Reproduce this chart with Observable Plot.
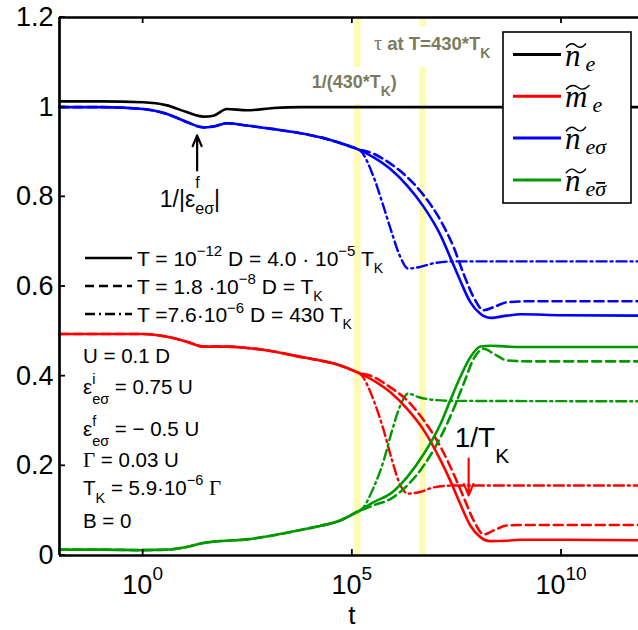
<!DOCTYPE html>
<html><head><meta charset="utf-8">
<script src="https://cdn.jsdelivr.net/npm/d3@7"></script>
<script src="https://cdn.jsdelivr.net/npm/@observablehq/plot@0.6"></script>
<style>html,body{margin:0;padding:0;background:#fff}svg{display:block}</style>
</head><body><div id="chart"></div>
<script>
// ---------- data (x given as log10 t) ----------
const earlyExp = [-2, -1, 0, 0.57, 1.04, 1.44, 1.68, 2.0, 2.48, 3.12, 3.76, 4.23, 4.71, 5.11];
const neEarly   = [1.013, 1.013, 1.011, 1.004, 0.989, 0.979, 0.981, 0.996, 0.993, 0.998, 1.0, 1.0, 1.0, 1.0];
const nesEarly  = [1.0, 1.0, 0.996, 0.985, 0.967, 0.955, 0.957, 0.964, 0.959, 0.951, 0.942, 0.933, 0.920, 0.907];
const meEarly   = [0.494, 0.494, 0.494, 0.488, 0.477, 0.466, 0.466, 0.466, 0.463, 0.455, 0.443, 0.435, 0.424, 0.409];
const nesbEarly = [0.013, 0.013, 0.012, 0.013, 0.019, 0.028, 0.031, 0.033, 0.036, 0.045, 0.057, 0.066, 0.078, 0.097];

const neTailExp = [6, 11.84];
const neTail = [1.0, 1.0];

const solidExp = [5.51, 5.91, 6.31, 6.71, 7.11, 7.34, 7.58, 7.82, 8.06, 8.30, 8.70, 9.02, 10, 11.84];
const nesSolid  = [0.888, 0.862, 0.825, 0.777, 0.714, 0.665, 0.613, 0.565, 0.539, 0.530, 0.535, 0.538, 0.536, 0.535];
const meSolid   = [0.390, 0.364, 0.327, 0.279, 0.212, 0.167, 0.115, 0.067, 0.041, 0.032, 0.033, 0.035, 0.035, 0.034];
const nesbSolid = [0.119, 0.138, 0.175, 0.227, 0.294, 0.346, 0.398, 0.442, 0.466, 0.468, 0.466, 0.465, 0.465, 0.465];

const dashExp = [5.51, 5.91, 6.31, 6.71, 7.11, 7.42, 7.66, 7.90, 8.14, 8.38, 8.70, 9.2, 11.84];
const nesDash  = [0.896, 0.874, 0.844, 0.803, 0.747, 0.688, 0.628, 0.576, 0.547, 0.554, 0.565, 0.567, 0.567];
const meDash   = [0.398, 0.375, 0.346, 0.301, 0.242, 0.182, 0.130, 0.078, 0.047, 0.056, 0.067, 0.068, 0.068];
const nesbDash = [0.112, 0.126, 0.156, 0.201, 0.264, 0.327, 0.383, 0.439, 0.461, 0.450, 0.435, 0.433, 0.433];

const ddExp = [5.19, 5.51, 5.75, 5.95, 6.15, 6.33, 6.59, 6.95, 7.4, 11.84];
const nesDD  = [0.903, 0.844, 0.777, 0.718, 0.665, 0.640, 0.643, 0.652, 0.656, 0.656];
const meDD   = [0.405, 0.346, 0.279, 0.212, 0.156, 0.138, 0.141, 0.152, 0.156, 0.156];
const nesbDD = [0.100, 0.152, 0.212, 0.279, 0.335, 0.361, 0.353, 0.347, 0.345, 0.344];

const bandExp = [5.12, 6.68];             // 1/(430 T_K), tau at T = 430 T_K
const xTickExp = [0, 5, 10];
const yTicks = [0, 0.2, 0.4, 0.6, 0.8, 1, 1.2];
const xDomainExp = [-2, 11.84];

const COLORS = {ne: "#000000", me: "#ff0000", nes: "#0000ff", nesb: "#009a00"};
const BAND = "#fffbb2";
const ANN = "#7b7b5b";
const SANS = "'Liberation Sans', Arial, Helvetica, sans-serif";
const SERIF = "'Liberation Serif', 'Times New Roman', serif";
const DASH = "9,5";
const DASHDOT = "10,4,2,4";

// annotation arrows (log10 t, values)
const arrows = [
  {e: 1.29, y1: 0.859, y2: 0.937, color: "#000000"},
  {e: 7.78, y1: 0.216, y2: 0.134, color: "#ff0000"}
];

// ---------- build rows ----------
const series = [
  {q: "ne",   style: "solid",   exp: earlyExp.concat(neTailExp), val: neEarly.concat(neTail)},
  {q: "nes",  style: "solid",   exp: earlyExp.concat(solidExp), val: nesEarly.concat(nesSolid)},
  {q: "me",   style: "solid",   exp: earlyExp.concat(solidExp), val: meEarly.concat(meSolid)},
  {q: "nesb", style: "solid",   exp: earlyExp.concat(solidExp), val: nesbEarly.concat(nesbSolid)},
  {q: "nes",  style: "dash",    exp: earlyExp.concat(dashExp), val: nesEarly.concat(nesDash)},
  {q: "me",   style: "dash",    exp: earlyExp.concat(dashExp), val: meEarly.concat(meDash)},
  {q: "nesb", style: "dash",    exp: earlyExp.concat(dashExp), val: nesbEarly.concat(nesbDash)},
  {q: "nes",  style: "dashdot", exp: earlyExp.slice(-3).concat(ddExp), val: nesEarly.slice(-3).concat(nesDD)},
  {q: "me",   style: "dashdot", exp: earlyExp.slice(-3).concat(ddExp), val: meEarly.slice(-3).concat(meDD)},
  {q: "nesb", style: "dashdot", exp: earlyExp.slice(-3).concat(ddExp), val: nesbEarly.slice(-3).concat(nesbDD)}
];
const rows = series.flatMap(s => s.exp.map((e, i) => ({
  key: s.q + "-" + s.style, style: s.style, color: COLORS[s.q], t: 10 ** e, v: s.val[i]
})));
const byStyle = st => rows.filter(d => d.style === st);

const plot = Plot.plot({
  width: 638, height: 630,
  marginLeft: 59, marginRight: 0, marginTop: 17, marginBottom: 75,
  style: {fontFamily: SANS, fontSize: "27px", background: "white", color: "black"},
  x: {type: "log", domain: xDomainExp.map(e => 10 ** e), axis: null},
  y: {domain: [0, 1.2], axis: null},
  color: {type: "identity"},
  marks: [
    Plot.ruleX(bandExp.map(e => 10 ** e), {stroke: BAND, strokeWidth: 6.5}),
    Plot.line(byStyle("dashdot"), {x: "t", y: "v", z: "key", stroke: "color", strokeWidth: 2.4, strokeDasharray: DASHDOT, curve: "monotone-x"}),
    Plot.line(byStyle("dash"), {x: "t", y: "v", z: "key", stroke: "color", strokeWidth: 2.6, strokeDasharray: DASH, curve: "monotone-x"}),
    Plot.line(byStyle("solid"), {x: "t", y: "v", z: "key", stroke: "color", strokeWidth: 2.6, curve: "monotone-x"}),
    Plot.arrow(arrows, {x1: d => 10 ** d.e, x2: d => 10 ** d.e, y1: "y1", y2: "y2", stroke: "color", strokeWidth: 2.2, headLength: 11, headAngle: 45}),
    Plot.ruleX([10 ** xDomainExp[0]], {strokeWidth: 2.7}),
    Plot.ruleY([0, 1.2], {strokeWidth: 2.7}),
    Plot.axisY({ticks: yTicks, tickSize: 0, tickPadding: 6, fontSize: 27, tickFormat: d => String(+d.toFixed(1)), label: null})
  ]
});
document.getElementById("chart").appendChild(plot);

// ---------- rich text & decorations ----------
const sx = plot.scale("x"), sy = plot.scale("y");
const PX = e => sx.apply(10 ** e), PY = v => sy.apply(v);
const svg = d3.select(plot);
const layer = svg.append("g").attr("text-anchor", "start").attr("font-family", SANS);

function rich(x, y, parts, o = {}) {
  const size = o.size || 20, fam = o.family || SANS, fill = o.fill || "black", weight = o.weight || "normal";
  const grp = layer.append("g");
  let cx = x;
  const put = (str, xx, yy, sz, ex = {}) => {
    const t = grp.append("text").attr("x", xx).attr("y", yy).attr("font-size", sz)
      .attr("text-anchor", "start")
      .attr("font-family", ex.family || fam).attr("font-weight", ex.weight || weight)
      .attr("font-style", ex.style || "normal").attr("fill", ex.fill || fill)
      .style("white-space", "pre").text(str);
    return t.node().getComputedTextLength();
  };
  for (const p of parts) {
    if (typeof p === "string") { cx += put(p, cx, y, size); continue; }
    if (p.sup !== undefined || p.sub !== undefined) {
      const ss = p.size || Math.round(size * 0.7);
      let w1 = 0, w2 = 0;
      if (p.sup !== undefined) w1 = put(p.sup, cx, y - (p.up ?? size * 0.42), ss, p);
      if (p.sub !== undefined) w2 = put(p.sub, cx, y + (p.down ?? size * 0.36), ss, p);
      cx += Math.max(w1, w2);
    } else cx += put(p.t, cx, y, p.size || size, p);
  }
  if (o.anchor === "middle") grp.attr("transform", `translate(${-(cx - x) / 2},0)`);
  if (o.bg) {
    const b = grp.node().getBBox(), pad = o.pad || 5;
    grp.insert("rect", ":first-child").attr("x", b.x - pad).attr("y", b.y - pad)
      .attr("width", b.width + 2 * pad).attr("height", b.height + 2 * pad).attr("fill", "white");
  }
  return grp;
}

// frame ticks (inward)
const yTopPx = PY(1.2), yBotPx = PY(0), xLeftPx = PX(xDomainExp[0]);
for (const e of xTickExp) {
  layer.append("line").attr("x1", PX(e)).attr("x2", PX(e)).attr("y1", yBotPx).attr("y2", yBotPx - 6).attr("stroke", "black").attr("stroke-width", 1.8);
  layer.append("line").attr("x1", PX(e)).attr("x2", PX(e)).attr("y1", yTopPx).attr("y2", yTopPx + 6).attr("stroke", "black").attr("stroke-width", 1.8);
  rich(PX(e), yBotPx + 39, ["10", {sup: String(e), size: 19, up: 14}], {size: 27, anchor: "middle"});
}
for (const v of yTicks) {
  layer.append("line").attr("x1", xLeftPx).attr("x2", xLeftPx + 6).attr("y1", PY(v)).attr("y2", PY(v)).attr("stroke", "black").attr("stroke-width", 1.8);
}
layer.append("text").attr("x", PX(5)).attr("y", yBotPx + 69).attr("text-anchor", "middle")
  .attr("font-size", 26).attr("font-family", SANS).text("t");

// band labels
rich(PX(4.04), PY(1.042), ["1/(430*T", {sub: "K", size: 14, down: 8}, ")"], {size: 18, weight: "bold", fill: ANN, bg: true, pad: 5});
rich(PX(5.53), PY(1.126), [{t: "τ", family: SERIF, weight: "normal", size: 20}, " at T=430*T", {sub: "K", size: 14, down: 8}], {size: 18.5, weight: "bold", fill: ANN, bg: true, pad: 6});

// arrow annotations
rich(PX(0.41), PY(0.776), ["1/|ε", {sup: "f", sub: "eσ", size: 16, up: 19, down: 7}, "|"], {size: 23});
rich(PX(7.46), PY(0.241), ["1/T", {sub: "K", size: 21, down: 16}], {size: 28});

// left legend (line styles)
const lsLegend = [
  {dash: null, y: 258, parts: ["T = 10", {sup: "−12", size: 15, up: 10}, " D = 4.0 · 10", {sup: "−5", size: 15, up: 10}, " T", {sub: "K", size: 14, down: 7}]},
  {dash: DASH, y: 286, parts: ["T = 1.8 ·10", {sup: "−8", size: 15, up: 10}, " D = T", {sub: "K", size: 14, down: 7}]},
  {dash: DASHDOT, y: 314, parts: ["T =7.6·10", {sup: "−6", size: 15, up: 9}, " D = 430 T", {sub: "K", size: 14, down: 7}]}
];
for (const L of lsLegend) {
  const ln = layer.append("line").attr("x1", 85).attr("x2", 132).attr("y1", L.y).attr("y2", L.y).attr("stroke", "black").attr("stroke-width", 2.6);
  if (L.dash) ln.attr("stroke-dasharray", L.dash);
  rich(137, L.y + 7.5, L.parts, {size: 21});
}

// parameter block
const params = [
  {y: 363, parts: ["U = 0.1 D"]},
  {y: 394, parts: ["ε", {sup: "i", sub: "eσ", size: 14.5, up: 10, down: 10}, " = 0.75 U"]},
  {y: 436, parts: ["ε", {sup: "f", sub: "eσ", size: 14.5, up: 10, down: 10}, " = − 0.5 U"]},
  {y: 467, parts: [{t: "Γ", family: SERIF, size: 21}, " = 0.03 U"]},
  {y: 495, parts: ["T", {sub: "K", size: 14.5, down: 8}, " = 5.9·10", {sup: "−6", size: 14.5, up: 10}, " ", {t: "Γ", family: SERIF, size: 21}]},
  {y: 528, parts: ["B = 0"]}
];
for (const P of params) rich(83, P.y, P.parts, {size: 20.5});

// quantity legend box
const qLegend = [
  {color: COLORS.ne, base: "n", sub: "e", bar: false},
  {color: COLORS.me, base: "m", sub: "e", bar: false},
  {color: COLORS.nes, base: "n", sub: "eσ", bar: false},
  {color: COLORS.nesb, base: "n", sub: "eσ", bar: true}
];
layer.append("rect").attr("x", 503).attr("y", 32).attr("width", 128).attr("height", 171)
  .attr("fill", "white").attr("stroke", "black").attr("stroke-width", 1.6);
qLegend.forEach((q, i) => {
  const y = 54.5 + i * 41.8;
  layer.append("line").attr("x1", 513).attr("x2", 561).attr("y1", y).attr("y2", y).attr("stroke", q.color).attr("stroke-width", 3);
  const baseX = 565;
  const bt = layer.append("text").attr("x", baseX).attr("y", y + 11).attr("font-family", SERIF).attr("font-style", "italic")
    .attr("font-size", 31).text(q.base);
  const bw = bt.node().getComputedTextLength();
  // wide tilde accent
  const a = baseX + 1, w = Math.max(bw, 19) + 1, c = y - 9;
  layer.append("path")
    .attr("d", `M${a},${c + 2.2} C${a + w * 0.2},${c - 3.5} ${a + w * 0.4},${c - 2} ${a + w * 0.5},${c} S${a + w * 0.8},${c + 3.5} ${a + w},${c - 2.2}`)
    .attr("fill", "none").attr("stroke", "black").attr("stroke-width", 1.4);
  const st = layer.append("text").attr("x", baseX + bw + 5).attr("y", y + 16).attr("font-family", SERIF).attr("font-style", "italic")
    .attr("font-size", 22).text(q.sub);
  if (q.bar) {
    const ew = 22 * 0.44;
    const sw = st.node().getComputedTextLength();
    layer.append("line").attr("x1", baseX + bw + 5 + ew + 1).attr("x2", baseX + bw + 5 + sw - 1)
      .attr("y1", y + 3).attr("y2", y + 3).attr("stroke", "black").attr("stroke-width", 1.8);
  }
});
</script></body></html>
